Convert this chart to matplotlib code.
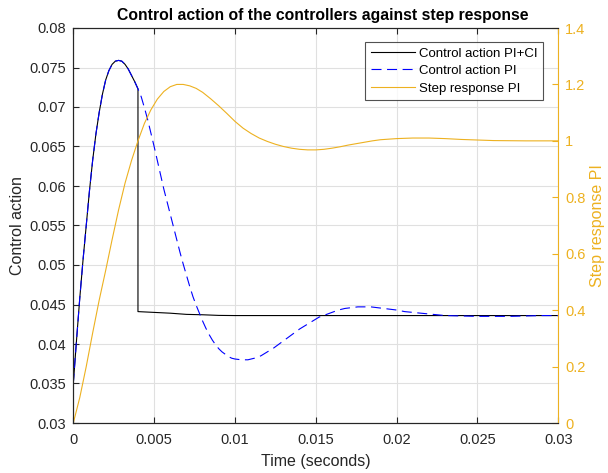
import matplotlib
matplotlib.use("Agg")
import matplotlib.pyplot as plt
from matplotlib.ticker import FuncFormatter

plt.rcParams['font.family'] = ['Liberation Sans', 'DejaVu Sans']

# ---- data ----
t_pi = [0, 0.0002, 0.0004, 0.0006, 0.0008, 0.0010, 0.0012, 0.0014, 0.0016, 0.0018,
        0.0020, 0.0022, 0.0024, 0.0026, 0.0028, 0.0030, 0.0032, 0.0034, 0.0036, 0.0038,
        0.0040, 0.0042, 0.0044, 0.0046, 0.0048, 0.0050, 0.0052, 0.0054, 0.0056, 0.0058,
        0.0060, 0.0062, 0.0064, 0.0066, 0.0068, 0.0070, 0.0072, 0.0074, 0.0076, 0.0078,
        0.0080, 0.0082, 0.0084, 0.0086, 0.0088, 0.0090, 0.0092, 0.0094, 0.0096, 0.0098,
        0.0100, 0.0104, 0.0108, 0.0112, 0.0116, 0.0120, 0.0124, 0.0128, 0.0132, 0.0136,
        0.0140, 0.0144, 0.0148, 0.0152, 0.0156, 0.0160, 0.0164, 0.0168, 0.0172, 0.0176,
        0.0180, 0.0184, 0.0188, 0.0192, 0.0196, 0.0200, 0.0205, 0.0210, 0.0215, 0.0220,
        0.0225, 0.0230, 0.0240, 0.0250, 0.0260, 0.0270, 0.0280, 0.0290, 0.0300]
u_pi = [0.0350, 0.0405, 0.0458, 0.0506, 0.0550, 0.0594, 0.0633, 0.0666, 0.0693, 0.0716,
        0.0734, 0.0746, 0.0754, 0.0758, 0.0759, 0.0758, 0.0754, 0.0748, 0.0740, 0.0732,
        0.0723, 0.0713, 0.0699, 0.0684, 0.0667, 0.0650, 0.0632, 0.0614, 0.0596, 0.0580,
        0.0564, 0.0548, 0.0532, 0.0516, 0.0501, 0.0487, 0.0473, 0.0460, 0.0449, 0.0439,
        0.0429, 0.0420, 0.0412, 0.0405, 0.0399, 0.0394, 0.0390, 0.0387, 0.0384, 0.0382,
        0.0381, 0.0380, 0.0380, 0.0382, 0.0385, 0.0390, 0.0395, 0.0401, 0.0407, 0.0413,
        0.0419, 0.0424, 0.0429, 0.0434, 0.0437, 0.0440, 0.0443, 0.0445, 0.0446, 0.0447,
        0.0447, 0.0447, 0.0446, 0.0445, 0.0444, 0.0443, 0.0441, 0.0440, 0.0439, 0.0438,
        0.0437, 0.0436, 0.04355, 0.0435, 0.0435, 0.0435, 0.04355, 0.0436, 0.0436]

t_cc = [0, 0.0002, 0.0004, 0.0006, 0.0008, 0.0010, 0.0012, 0.0014, 0.0016, 0.0018,
        0.0020, 0.0022, 0.0024, 0.0026, 0.0028, 0.0030, 0.0032, 0.0034, 0.0036, 0.0038,
        0.0040, 0.0040, 0.0050, 0.0060, 0.0070, 0.0080, 0.0090, 0.0100, 0.0150, 0.0200,
        0.0250, 0.0300]
u_cc = [0.0350, 0.0405, 0.0458, 0.0506, 0.0550, 0.0594, 0.0633, 0.0666, 0.0693, 0.0716,
        0.0734, 0.0746, 0.0754, 0.0758, 0.0759, 0.0758, 0.0754, 0.0748, 0.0740, 0.0732,
        0.0723, 0.0441, 0.0440, 0.0439, 0.04375, 0.0437, 0.04362, 0.0436, 0.0436, 0.0436,
        0.0436, 0.0436]

t_step = [0, 0.0004, 0.0008, 0.0012, 0.0016, 0.0020, 0.0024, 0.0028, 0.0032, 0.0036,
          0.0040, 0.0044, 0.0048, 0.0052, 0.0056, 0.0060, 0.0064, 0.0068, 0.0072, 0.0076,
          0.0080, 0.0085, 0.0090, 0.0095, 0.0100, 0.0105, 0.0110, 0.0115, 0.0120, 0.0125,
          0.0130, 0.0135, 0.0140, 0.0145, 0.0150, 0.0155, 0.0160, 0.0165, 0.0170, 0.0175,
          0.0180, 0.0185, 0.0190, 0.0200, 0.0210, 0.0220, 0.0230, 0.0240, 0.0250, 0.0260,
          0.0280, 0.0300]
y_step = [0, 0.09, 0.20, 0.32, 0.435, 0.54, 0.65, 0.755, 0.85, 0.93,
          1.0, 1.062, 1.11, 1.148, 1.175, 1.192, 1.200, 1.200, 1.195, 1.186,
          1.172, 1.149, 1.124, 1.097, 1.069, 1.045, 1.026, 1.010, 0.998, 0.988,
          0.980, 0.974, 0.970, 0.968, 0.968, 0.970, 0.974, 0.979, 0.985, 0.990,
          0.995, 1.0, 1.004, 1.008, 1.010, 1.010, 1.008, 1.005, 1.003, 1.001,
          1.0, 1.0]

x_ticks = [0, 0.005, 0.01, 0.015, 0.02, 0.025, 0.03]
yl_ticks = [0.03, 0.035, 0.04, 0.045, 0.05, 0.055, 0.06, 0.065, 0.07, 0.075, 0.08]
yr_ticks = [0, 0.2, 0.4, 0.6, 0.8, 1.0, 1.2, 1.4]

labels = ['Control action PI+CI', 'Control action PI', 'Step response PI']
title = 'Control action of the controllers against step response'

# ---- styling ----
dark = (0.15, 0.15, 0.15)
orange = (0.929, 0.694, 0.125)

fig = plt.figure(figsize=(6.08, 4.73), dpi=100)
ax = fig.add_axes([73.3 / 608, 1 - 423 / 473, 485 / 608, 395 / 473])
ax2 = ax.twinx()

l1, = ax.plot(t_cc, u_cc, color='black', lw=0.8, label=labels[0])
l2, = ax.plot(t_pi, u_pi, color=(0, 0, 1), lw=0.8, dashes=(9, 5), label=labels[1])
l3, = ax2.plot(t_step, y_step, color=orange, lw=0.8, label=labels[2])

ax.set_xlim(0, 0.03)
ax.set_ylim(0.03, 0.08)
ax2.set_ylim(0, 1.4)
ax.set_xticks(x_ticks)
ax.set_yticks(yl_ticks)
ax2.set_yticks(yr_ticks)
fmt = FuncFormatter(lambda v, p: ('%g' % round(v, 6)))
ax.xaxis.set_major_formatter(fmt)
ax.yaxis.set_major_formatter(fmt)
ax2.yaxis.set_major_formatter(fmt)

ax.grid(True, color=(0.88, 0.88, 0.88), lw=0.8)
ax.set_axisbelow(True)

for a in (ax, ax2):
    for s in a.spines.values():
        s.set_linewidth(0.8)
        s.set_color(dark)
ax2.spines['right'].set_color(orange)
ax.spines['right'].set_visible(False)

ax.tick_params(axis='both', direction='in', length=4, width=0.8, colors=dark,
               labelsize=10.5, top=True, pad=5)
ax.tick_params(axis='x', pad=7)
ax.tick_params(axis='y', right=False)
ax2.tick_params(axis='y', direction='in', length=4, width=0.8, colors=orange,
                labelsize=10.5, pad=5)

ax.set_xlabel('Time (seconds)', fontsize=11.5, color=dark, labelpad=5)
ax.set_ylabel('Control action', fontsize=11.5, color=dark, labelpad=3)
ax2.set_ylabel('Step response PI', fontsize=11.5, color=orange, labelpad=3)
ax.set_title(title, fontsize=11.3, fontweight='bold', color='black', pad=6,
             x=0.5 + 7 / 485)

leg = ax2.legend(handles=[l1, l2, l3], loc='upper right',
                 bbox_to_anchor=(1 - 15 / 485, 1 - 14 / 395), borderaxespad=0,
                 fontsize=9.5, frameon=True, fancybox=False, handlelength=3.4,
                 handletextpad=0.3, borderpad=0.4, labelspacing=0.4)
leg.get_frame().set_edgecolor(dark)
leg.get_frame().set_linewidth(0.8)

fig.savefig('out.png', dpi=100)
